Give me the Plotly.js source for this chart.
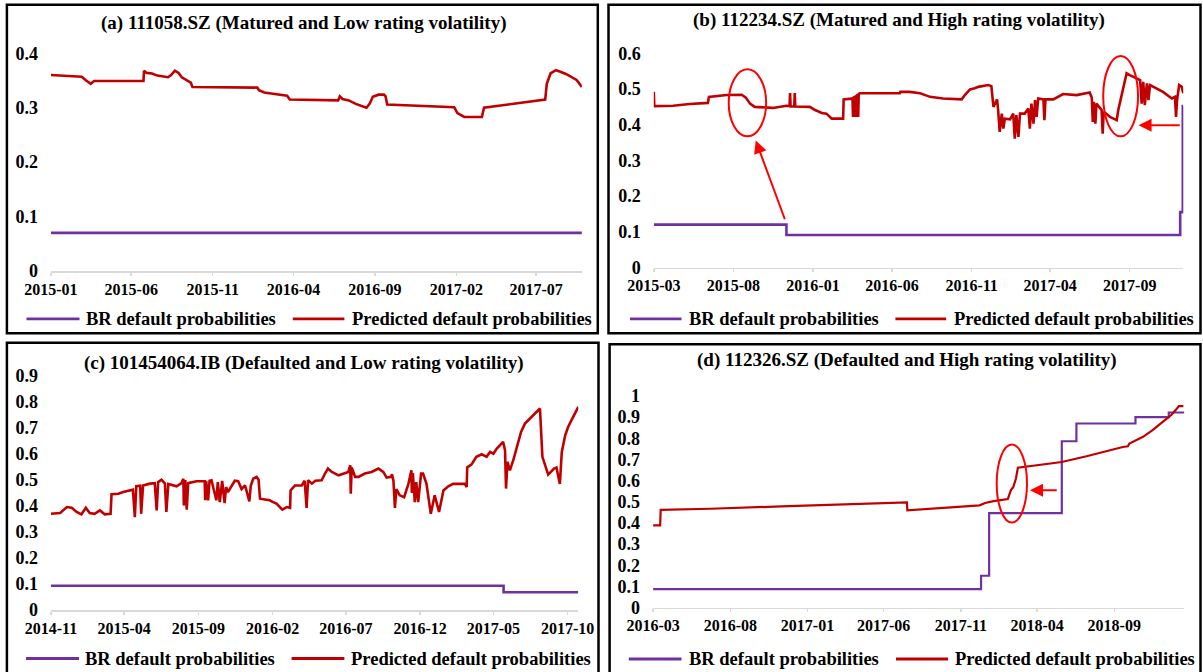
<!DOCTYPE html>
<html><head><meta charset="utf-8">
<script src="https://cdn.plot.ly/plotly-3.0.1.min.js"></script>
<style>body{margin:0;background:#fff}</style>
</head><body>
<div id="chart" style="width:1203px;height:672px"></div>
<script>
// ---------- DATA ----------
const titles = [
  "(a) 111058.SZ (Matured and Low rating volatility)",
  "(b) 112234.SZ (Matured and High rating volatility)",
  "(c) 101454064.IB (Defaulted and Low rating volatility)",
  "(d) 112326.SZ (Defaulted and High rating volatility)"
];
const legendNames = ["BR default probabilities", "Predicted default probabilities"];
const yMax = [0.4, 0.6, 0.9, 1.0];

// (a) 111058.SZ
const aBRDates = ['2015-01-01','2017-09-25'];
const aBRVals  = [0.07, 0.07];
const aPredDates = ['2015-01-01','2015-01-26','2015-02-12','2015-02-28','2015-03-07','2015-03-17','2015-03-23','2015-06-24','2015-06-25','2015-06-30','2015-07-10','2015-07-20','2015-08-09','2015-08-15','2015-08-22','2015-08-29','2015-09-04','2015-09-14','2015-09-21','2015-09-24','2016-01-24','2016-01-27','2016-02-06','2016-02-19','2016-03-20','2016-03-25','2016-06-24','2016-06-27','2016-07-02','2016-07-14','2016-07-27','2016-08-16','2016-08-22','2016-08-28','2016-09-08','2016-09-18','2016-09-21','2016-09-24','2017-01-28','2017-02-03','2017-02-16','2017-03-21','2017-03-25','2017-07-18','2017-07-21','2017-07-28','2017-08-07','2017-08-13','2017-08-26','2017-09-15','2017-09-25'];
const aPredVals = [0.360,0.359,0.357,0.357,0.351,0.344,0.349,0.349,0.368,0.364,0.363,0.359,0.356,0.360,0.368,0.364,0.356,0.351,0.346,0.338,0.337,0.332,0.328,0.326,0.322,0.315,0.3135,0.321,0.316,0.3135,0.307,0.300,0.307,0.320,0.324,0.324,0.321,0.306,0.301,0.290,0.283,0.283,0.300,0.315,0.344,0.363,0.369,0.367,0.362,0.351,0.338];

// (b) 112234.SZ
const bBRDates = ['2015-03-01','2015-11-11','2017-12-07','2017-12-12','2017-12-13'];
const bBRVals  = [0.120, 0.091, 0.155, 0.452, 0.452];
const bPredDates = ['2015-03-01','2015-03-02','2015-04-07','2015-05-09','2015-06-13','2015-06-15','2015-07-19','2015-08-17','2015-08-25','2015-09-02','2015-09-11','2015-10-16','2015-11-11','2015-11-17','2015-11-18','2015-11-19','2015-11-26','2015-11-27','2015-11-28','2015-12-26','2016-01-05','2016-01-18','2016-01-27','2016-02-06','2016-02-28','2016-02-29','2016-03-15','2016-03-17','2016-03-18','2016-03-19','2016-03-22','2016-03-23','2016-03-24','2016-03-27','2016-03-28','2016-03-29','2016-03-31','2016-06-16','2016-06-17','2016-07-05','2016-07-25','2016-08-13','2016-09-07','2016-10-13','2016-10-19','2016-10-29','2016-11-07','2016-11-14','2016-12-03','2016-12-09','2016-12-13','2016-12-20','2016-12-22','2016-12-25','2016-12-29','2017-01-01','2017-01-04','2017-01-14','2017-01-20','2017-01-23','2017-01-26','2017-01-30','2017-02-02','2017-02-11','2017-02-18','2017-02-21','2017-02-24','2017-02-28','2017-03-03','2017-03-06','2017-03-09','2017-03-19','2017-03-21','2017-03-23','2017-04-07','2017-04-26','2017-05-22','2017-06-16','2017-06-20','2017-06-22','2017-06-24','2017-06-27','2017-06-29','2017-07-09','2017-07-11','2017-07-13','2017-07-25','2017-08-07','2017-08-10','2017-08-16','2017-08-20','2017-08-26','2017-09-01','2017-09-08','2017-09-21','2017-09-24','2017-09-27','2017-09-30','2017-10-04','2017-10-07','2017-10-10','2017-11-04','2017-11-21','2017-11-27','2017-11-29','2017-12-01','2017-12-05','2017-12-10','2017-12-13'];
const bPredVals = [0.492,0.452,0.453,0.458,0.461,0.478,0.483,0.484,0.476,0.459,0.450,0.447,0.453,0.452,0.489,0.451,0.451,0.489,0.451,0.450,0.441,0.433,0.431,0.417,0.417,0.471,0.473,0.474,0.422,0.476,0.478,0.422,0.480,0.484,0.422,0.486,0.488,0.488,0.492,0.492,0.488,0.478,0.4735,0.471,0.483,0.499,0.502,0.506,0.511,0.508,0.450,0.471,0.441,0.380,0.431,0.389,0.417,0.415,0.431,0.361,0.427,0.366,0.431,0.431,0.445,0.389,0.459,0.403,0.469,0.422,0.4735,0.471,0.413,0.471,0.471,0.486,0.483,0.490,0.476,0.408,0.464,0.403,0.459,0.441,0.375,0.436,0.422,0.413,0.441,0.478,0.511,0.544,0.539,0.534,0.525,0.459,0.520,0.455,0.516,0.469,0.511,0.492,0.4735,0.478,0.422,0.469,0.511,0.506,0.488];

// (c) 101454064.IB
const cBRDates = ['2014-11-01','2017-05-22','2017-10-23'];
const cBRVals  = [0.093, 0.068, 0.068];
const cPredDates = ['2014-11-01','2014-11-20','2014-12-04','2014-12-14','2014-12-24','2015-01-03','2015-01-12','2015-01-20','2015-01-30','2015-02-10','2015-02-20','2015-03-04','2015-03-06','2015-03-20','2015-03-30','2015-04-19','2015-04-23','2015-04-26','2015-05-04','2015-05-06','2015-05-10','2015-05-24','2015-06-03','2015-06-07','2015-06-10','2015-06-17','2015-06-24','2015-06-27','2015-07-01','2015-07-18','2015-07-28','2015-08-01','2015-08-02','2015-08-05','2015-08-08','2015-08-11','2015-08-28','2015-09-14','2015-09-15','2015-09-17','2015-09-21','2015-09-24','2015-09-28','2015-10-08','2015-10-11','2015-10-15','2015-10-20','2015-10-25','2015-10-28','2015-11-01','2015-11-15','2015-11-22','2015-11-29','2015-12-06','2015-12-09','2015-12-15','2015-12-18','2015-12-23','2015-12-30','2016-01-03','2016-01-06','2016-01-26','2016-02-02','2016-02-09','2016-02-21','2016-03-01','2016-03-08','2016-03-09','2016-03-18','2016-04-01','2016-04-07','2016-04-11','2016-04-14','2016-04-22','2016-04-29','2016-05-12','2016-05-19','2016-05-25','2016-06-02','2016-06-16','2016-06-30','2016-07-06','2016-07-10','2016-07-11','2016-07-13','2016-07-20','2016-07-27','2016-08-09','2016-08-23','2016-09-06','2016-09-16','2016-09-23','2016-10-02','2016-10-04','2016-10-07','2016-10-10','2016-10-13','2016-10-20','2016-10-29','2016-11-07','2016-11-13','2016-11-14','2016-11-16','2016-11-20','2016-11-23','2016-11-27','2016-12-03','2016-12-07','2016-12-14','2016-12-23','2016-12-31','2017-01-09','2017-01-18','2017-01-28','2017-02-07','2017-02-18','2017-03-03','2017-03-07','2017-03-08','2017-03-17','2017-03-27','2017-04-07','2017-04-17','2017-04-24','2017-05-01','2017-05-08','2017-05-18','2017-05-21','2017-05-25','2017-05-27','2017-05-30','2017-06-04','2017-06-11','2017-06-18','2017-06-21','2017-06-27','2017-07-05','2017-07-19','2017-08-01','2017-08-05','2017-08-10','2017-08-15','2017-08-22','2017-09-03','2017-09-08','2017-09-15','2017-09-19','2017-09-26','2017-10-02','2017-10-09','2017-10-16','2017-10-23'];
const cPredVals = [0.370,0.373,0.396,0.393,0.377,0.368,0.393,0.373,0.370,0.383,0.368,0.370,0.445,0.447,0.454,0.463,0.357,0.476,0.478,0.370,0.479,0.486,0.488,0.383,0.492,0.501,0.486,0.377,0.485,0.476,0.488,0.505,0.402,0.500,0.386,0.488,0.495,0.495,0.422,0.497,0.422,0.497,0.499,0.422,0.492,0.415,0.497,0.411,0.473,0.454,0.497,0.495,0.465,0.479,0.460,0.418,0.479,0.505,0.512,0.501,0.428,0.422,0.415,0.409,0.386,0.396,0.393,0.460,0.479,0.479,0.497,0.393,0.499,0.486,0.497,0.499,0.525,0.544,0.531,0.518,0.527,0.531,0.557,0.447,0.548,0.512,0.512,0.525,0.531,0.544,0.531,0.509,0.512,0.522,0.497,0.393,0.465,0.441,0.434,0.486,0.537,0.450,0.527,0.415,0.492,0.415,0.525,0.525,0.486,0.370,0.441,0.377,0.460,0.476,0.485,0.486,0.485,0.473,0.548,0.560,0.589,0.599,0.589,0.608,0.601,0.621,0.640,0.647,0.614,0.467,0.570,0.537,0.576,0.627,0.647,0.685,0.717,0.743,0.771,0.775,0.589,0.557,0.521,0.544,0.548,0.485,0.608,0.672,0.704,0.730,0.756,0.781];

// (d) 112326.SZ
const dBRDates = ['2016-03-01','2017-12-11','2017-12-27','2018-05-20','2018-06-18','2018-10-13','2018-12-18','2019-01-18'];
const dBRVals  = [0.087, 0.150, 0.446, 0.786, 0.870, 0.900, 0.922, 0.922];
const dPredDates = ['2016-03-01','2016-03-15','2016-03-16','2016-06-23','2016-11-10','2017-03-31','2017-07-14','2017-07-17','2017-07-18','2017-09-22','2017-12-08','2017-12-19','2018-01-05','2018-02-02','2018-02-08','2018-02-13','2018-02-18','2018-02-22','2018-03-06','2018-05-20','2018-07-08','2018-08-17','2018-09-18','2018-09-28','2018-10-01','2018-10-28','2018-11-16','2018-12-06','2018-12-23','2019-01-02','2019-01-07','2019-01-16'];
const dPredVals = [0.388,0.388,0.462,0.467,0.478,0.487,0.497,0.497,0.459,0.470,0.483,0.494,0.503,0.513,0.554,0.570,0.609,0.661,0.665,0.688,0.715,0.740,0.759,0.762,0.775,0.807,0.839,0.878,0.910,0.937,0.952,0.952];

// highlight marks (ellipses: [x0,x1,y0,y1]; arrows: head [x,y], tail [x,y])
const bEllipses = [['2015-07-23','2015-10-03',0.3675,0.555], ['2017-07-12','2017-09-17',0.3675,0.5925]];
const bArrows = [[['2015-09-13',0.356],['2015-11-09',0.131]], [['2017-09-18',0.3985],['2017-12-09',0.3985]]];
const dEllipses = [['2018-01-11','2018-03-12',0.402,0.771]];
const dArrows = [[['2018-03-18',0.554],['2018-05-13',0.554]]];

// ---------- LAYOUT ----------
const W = 1203, H = 672;
const fx = p => p / W;
const fy = p => 1 - p / H;
const FONT = 'Liberation Serif, Times New Roman, serif';
const RED = '#c00000', PURPLE = '#7030a0', HL = '#ff0000';

const panels = [
  {br:[aBRDates,aBRVals], pr:[aPredDates,aPredVals], xPx:[50.9,581.9], yPx:[271,53.3], tPos:[304,23.3], box:[6.9,4.7,597.8,333.3], leg:{y:318.8,l1:[26.5,79.5],t1:84,l2:[292.8,344.4],t2:350.2}, lw:2.6, ell:[], arr:[]},
  {br:[bBRDates,bBRVals], pr:[bPredDates,bPredVals], xPx:[653.8,1183.3], yPx:[267.5,53.3], tPos:[898.5,20.5], box:[608.5,4.7,1200.5,333.3], leg:{y:318.8,l1:[630,681.5],t1:686.5,l2:[895.4,946.2],t2:951.9}, lw:2.6, ell:bEllipses, arr:bArrows},
  {br:[cBRDates,cBRVals], pr:[cPredDates,cPredVals], xPx:[50.9,578.3], yPx:[610,376], tPos:[304,362.7], box:[6.9,342.7,598.5,676], leg:{y:658.5,l1:[26,79],t1:83.4,l2:[291.6,344.4],t2:349}, lw:2.6, ell:[], arr:[]},
  {br:[dBRDates,dBRVals], pr:[dPredDates,dPredVals], xPx:[653.1,1184.4], yPx:[607.5,396], tPos:[907,360], box:[609.6,344.3,1200.5,676], leg:{y:659,l1:[628.8,681.5],t1:686.5,l2:[896,948],t2:953}, lw:2.2, ell:dEllipses, arr:dArrows}
];

const traces = [], shapes = [], annotations = [];
const layout = {
  width: W, height: H, margin:{l:0,r:0,t:0,b:0},
  paper_bgcolor:'#fff', plot_bgcolor:'rgba(0,0,0,0)', showlegend:false
};

panels.forEach((p, i) => {
  const s = i === 0 ? '' : String(i + 1);
  const xa = 'x' + s, ya = 'y' + s;
  traces.push({type:'scatter', mode:'lines', x:p.br[0], y:p.br[1], xaxis:xa, yaxis:ya,
    name:legendNames[0], line:{color:PURPLE, width:p.lw, shape:'hv'}});
  traces.push({type:'scatter', mode:'lines', x:p.pr[0], y:p.pr[1], xaxis:xa, yaxis:ya,
    name:legendNames[1], line:{color:RED, width:p.lw}});
  const allDates = p.br[0].concat(p.pr[0]).slice().sort();
  const start = allDates[0], end = allDates[allDates.length - 1];
  layout['xaxis' + s] = {
    domain:[fx(p.xPx[0]), fx(p.xPx[1])], anchor:ya, type:'date',
    range:[start, end], tick0:start, dtick:'M5', tickformat:'%Y-%m',
    showline:true, linecolor:'#d9d9d9', linewidth:1.5, ticks:'outside', ticklen:3,
    tickcolor:'#d9d9d9', tickwidth:1.5, showgrid:false, zeroline:false,
    ticklabelstandoff:0,
    tickfont:{family:FONT, size:16, color:'#000', weight:'bold'}, fixedrange:true
  };
  layout['yaxis' + s] = {
    domain:[fy(p.yPx[0]), fy(p.yPx[1])], anchor:xa, range:[0, yMax[i]], dtick:0.1, tick0:0,
    showline:false, showgrid:false, zeroline:false, ticks:'', ticklabelstandoff:12,
    tickfont:{family:FONT, size:18, color:'#000', weight:'bold'}, fixedrange:true
  };
  // border
  shapes.push({type:'rect', xref:'paper', yref:'paper', x0:fx(p.box[0]), x1:fx(p.box[2]),
    y0:fy(p.box[3]), y1:fy(p.box[1]), line:{color:'#000', width:2.5}, fillcolor:'rgba(0,0,0,0)'});
  // title
  annotations.push({xref:'paper', yref:'paper', x:fx(p.tPos[0]), y:fy(p.tPos[1]), xanchor:'center', yanchor:'middle',
    text:titles[i], showarrow:false, font:{family:FONT, size:19, color:'#000', weight:'bold'}});
  // legend
  const L = p.leg;
  [[L.l1, L.t1, PURPLE, legendNames[0]], [L.l2, L.t2, RED, legendNames[1]]].forEach(([ln, tx, col, nm]) => {
    shapes.push({type:'line', xref:'paper', yref:'paper', x0:fx(ln[0]), x1:fx(ln[1]), y0:fy(L.y), y1:fy(L.y),
      line:{color:col, width:2.8}});
    annotations.push({xref:'paper', yref:'paper', x:fx(tx), y:fy(L.y), xanchor:'left', yanchor:'middle',
      text:nm, showarrow:false, font:{family:FONT, size:18.5, color:'#000', weight:'bold'}});
  });
  // highlights
  p.ell.forEach(e => shapes.push({type:'circle', xref:xa, yref:ya, x0:e[0], x1:e[1], y0:e[2], y1:e[3],
    line:{color:HL, width:2}}));
  p.arr.forEach(a => annotations.push({xref:xa, yref:ya, axref:xa, ayref:ya, x:a[0][0], y:a[0][1],
    ax:a[1][0], ay:a[1][1], text:'', showarrow:true, arrowhead:2, arrowsize:1.3, arrowwidth:2, arrowcolor:HL}));
});

layout.shapes = shapes;
layout.annotations = annotations;
Plotly.newPlot('chart', traces, layout, {displayModeBar:false, staticPlot:true});
</script>
</body></html>
